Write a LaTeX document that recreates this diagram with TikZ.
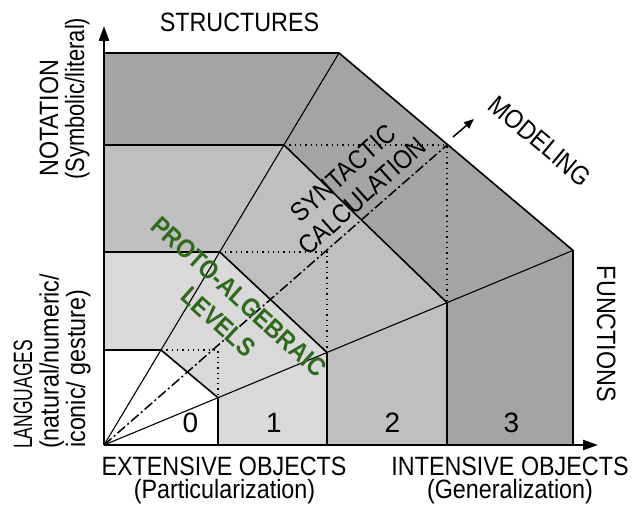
\documentclass[tikz,border=0pt]{standalone}
\usepackage{fontspec}
\usepackage{graphicx}
\setmainfont{Liberation Sans}[FakeStretch=0.88]
\newfontfamily\digitfont{Liberation Sans}
\usetikzlibrary{arrows.meta}
\definecolor{lvlone}{HTML}{D9D9D9}
\definecolor{lvltwo}{HTML}{BFBFBF}
\definecolor{lvlthree}{HTML}{A4A4A4}
\definecolor{protogreen}{RGB}{48,104,30}
\begin{document}
\begin{tikzpicture}[x=1pt,y=-1pt,
  edge/.style={line width=1.6pt,line join=miter},
  ray/.style={line width=1.1pt},
  dotline/.style={line width=1.3pt,dash pattern=on 1.3pt off 4pt},
  dashdotline/.style={line width=1.5pt,dash pattern=on 10pt off 3pt on 2pt off 3pt},
  axis/.style={line width=2.2pt,-{Triangle[length=15pt,width=10pt]}},
  lab/.style={font=\fontsize{26.5}{29}\selectfont,inner sep=0pt},
  digit/.style={font=\digitfont\fontsize{28}{31}\selectfont,inner sep=0pt},
  proto/.style={font=\fontsize{26}{29}\selectfont\bfseries,text=protogreen,inner sep=0pt}]
\useasboundingbox (0,0) rectangle (637,511);
% key points
\coordinate (O) at (104,445);
\coordinate (X0) at (218,445);
\coordinate (X1) at (327,445);
\coordinate (X2) at (447,445);
\coordinate (X3) at (573,445);
\coordinate (Y0) at (104,350);
\coordinate (Y1) at (104,252);
\coordinate (Y2) at (104,145);
\coordinate (Y3) at (104,53);
\coordinate (U0) at (161,350);
\coordinate (U1) at (219.8,252);
\coordinate (U2) at (284,145);
\coordinate (U3) at (339,53);
\coordinate (L0) at (218,397.7);
\coordinate (L1) at (327,352.5);
\coordinate (L2) at (447,302.7);
\coordinate (L3) at (573,250.4);
\coordinate (S0) at (218,350);
\coordinate (S1) at (327,252);
\coordinate (S2) at (447,145);
\coordinate (MA) at (453,137);
\coordinate (MB) at (474,119);
\coordinate (XT) at (598,445);
\coordinate (YT) at (104,26);
% fills
\fill[lvlthree] (O) -- (X3) -- (L3) -- (U3) -- (Y3) -- cycle;
\fill[lvltwo] (O) -- (X2) -- (L2) -- (U2) -- (Y2) -- cycle;
\fill[lvlone] (O) -- (X1) -- (L1) -- (U1) -- (Y1) -- cycle;
\fill[white] (O) -- (X0) -- (L0) -- (U0) -- (Y0) -- cycle;
% dotted square corners
\draw[dotline] (U0) -- (S0) -- (L0);
\draw[dotline] (U1) -- (S1) -- (L1);
\draw[dotline] (U2) -- (S2) -- (L2);
% rays
\draw[ray] (O) -- (U3);
\draw[ray] (O) -- (L3);
% level boundaries
\draw[edge] (Y0) -- (U0) -- (L0) -- (X0);
\draw[edge] (Y1) -- (U1) -- (L1) -- (X1);
\draw[edge] (Y2) -- (U2) -- (L2) -- (X2);
\draw[edge] (Y3) -- (U3) -- (L3) -- (X3);
% modeling diagonal
\draw[dashdotline] (O) -- (S2);
\draw[line width=1.5pt,-{Triangle[length=10pt,width=8pt]}] (MA) -- (MB);
% axes
\draw[axis] (O) -- (XT);
\draw[axis] (O) -- (YT);
% labels
\node[lab,anchor=base] (structures) at (239.5,32) {STRUCTURES};
\node[lab,rotate=-40] (modeling) at (540,141) {MODELING};
\node[lab,rotate=-90,anchor=base] (functions) at (597,334) {FUNCTIONS};
\node[lab,rotate=90,anchor=base west] (notation) at (58,177) {NOTATION};
\node[lab,rotate=90,anchor=base west] (symbolic) at (84,180) {\scalebox{0.94}[1]{(Symbolic/literal)}};
\node[lab,rotate=90,anchor=base west] (languages) at (32,449) {\scalebox{0.75}[1]{LANGUAGES}};
\node[lab,rotate=90,anchor=base west] (natural) at (58.5,449) {(natural/numeric/};
\node[lab,rotate=90,anchor=base west] (iconic) at (85,448) {iconic/ gesture)};
\node[lab,anchor=base] (extensive) at (224,475) {EXTENSIVE OBJECTS};
\node[lab,anchor=base] (partic) at (224.5,498) {(Particularization)};
\node[lab,anchor=base] (intensive) at (510,475) {INTENSIVE OBJECTS};
\node[lab,anchor=base] (general) at (510,498) {(Generalization)};
\node[lab,rotate=42] (syntactic) at (343,173) {SYNTACTIC};
\node[lab,rotate=42] (calculation) at (362,196) {CALCULATION};
\node[proto,rotate=-42] (protoalg) at (239,297) {PROTO-ALGEBRAIC};
\node[proto,rotate=-42] (levels) at (218.5,322) {LEVELS};
\node[digit] (d0) at (190.5,423) {0};
\node[digit] (d1) at (274,423) {1};
\node[digit] (d2) at (392.5,423) {2};
\node[digit] (d3) at (511.5,423) {3};
\end{tikzpicture}
\end{document}
